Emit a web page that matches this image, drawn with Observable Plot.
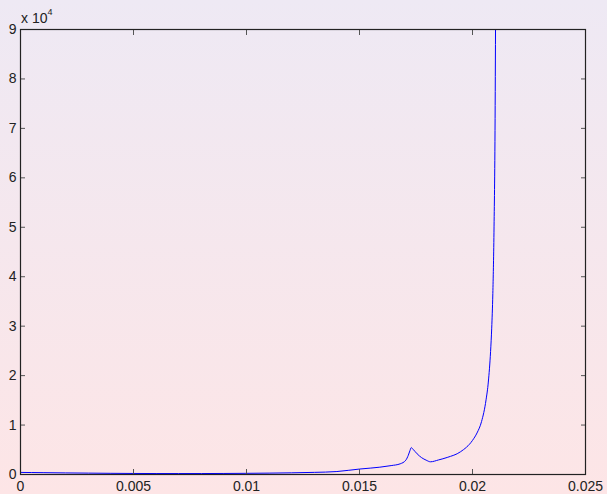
<!DOCTYPE html>
<html>
<head>
<meta charset="utf-8">
<script src="https://cdn.jsdelivr.net/npm/d3@7"></script>
<script src="https://cdn.jsdelivr.net/npm/@observablehq/plot@0.6"></script>
<style>
  html, body { margin: 0; padding: 0; }
  body { width: 607px; height: 494px; background: linear-gradient(#EEE9F4, #FDE5E6); overflow: hidden; position: relative; font-family: "Liberation Sans", Arial, sans-serif; }
  #exp { position: absolute; left: 21px; top: 9px; font-size: 14px; color: #222; }
  #exp sup { font-size: 9px; position: relative; top: -2px; }
</style>
</head>
<body>
<div id="exp">x 10<sup>4</sup></div>
<div id="chart"></div>
<script>
const xs = [0, 0.001, 0.002, 0.003, 0.004, 0.005, 0.006, 0.007, 0.008, 0.009, 0.010, 0.011, 0.012, 0.013, 0.014, 0.015, 0.0155, 0.0159, 0.0164, 0.0168, 0.01705, 0.01716, 0.01723, 0.01729, 0.01737, 0.01755, 0.01775, 0.01795, 0.01814, 0.0185, 0.01888, 0.01947, 0.0200, 0.0202, 0.0204, 0.0206, 0.0207, 0.0208, 0.02085, 0.0209, 0.02095, 0.0210, 0.02105];
const ys = [420, 370, 320, 280, 240, 210, 195, 190, 195, 210, 240, 280, 340, 430, 600, 1100, 1300, 1480, 1800, 2160, 2900, 3900, 4800, 5440, 5100, 4180, 3400, 2900, 2570, 2950, 3450, 4600, 6900, 8400, 10700, 15100, 18700, 24900, 29600, 36600, 49000, 72000, 130000];
const xTicks = [0, 0.005, 0.01, 0.015, 0.02, 0.025];
const xTickLabels = ["0", "0.005", "0.01", "0.015", "0.02", "0.025"];
const yTicks = [0, 10000, 20000, 30000, 40000, 50000, 60000, 70000, 80000, 90000];
const yTickLabels = ["0", "1", "2", "3", "4", "5", "6", "7", "8", "9"];

const data = xs.map((x, i) => ({x, y: ys[i]}));

const chart = Plot.plot({
  width: 607,
  height: 494,
  marginLeft: 20,
  marginRight: 22,
  marginTop: 29,
  marginBottom: 20,
  style: {background: "transparent", fontFamily: "Liberation Sans, Arial, sans-serif", fontSize: "14px", color: "#222"},
  x: {domain: [0, 0.025]},
  y: {domain: [0, 90000]},
  marks: [
    Plot.line(data, {x: "x", y: "y", stroke: "#0000FF", strokeWidth: 1, curve: "monotone-x", clip: true}),
    Plot.axisX(xTicks, {anchor: "bottom", label: null, tickSize: -5, tickPadding: 12, stroke: "#555", tickFormat: (d, i) => xTickLabels[i], fill: "#222", fontSize: 14}),
    Plot.axisX(xTicks, {anchor: "top", label: null, tickSize: -5, stroke: "#555", text: null}),
    Plot.axisY(yTicks, {anchor: "left", label: null, tickSize: -5, tickPadding: 9, stroke: "#555", tickFormat: (d, i) => yTickLabels[i], fill: "#222", fontSize: 14}),
    Plot.axisY(yTicks, {anchor: "right", label: null, tickSize: -5, stroke: "#555", text: null}),
    Plot.frame({stroke: "#222", strokeWidth: 1.2})
  ]
});
document.getElementById("chart").appendChild(chart);
</script>
</body>
</html>
